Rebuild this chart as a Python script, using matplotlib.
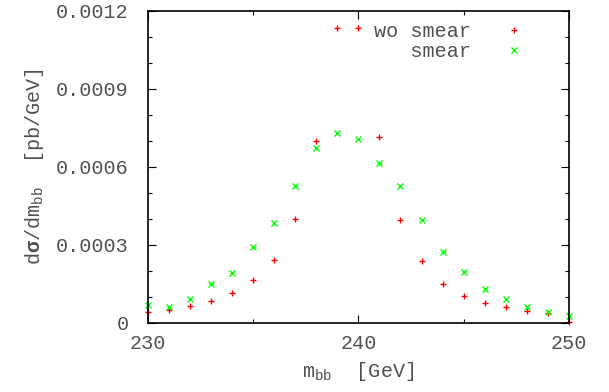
import matplotlib
matplotlib.use("Agg")
import matplotlib.pyplot as plt
from matplotlib.ticker import MultipleLocator

# -------------------------------------------------
# Data: b-bbar invariant mass distribution
# -------------------------------------------------

m_bb = [230, 231, 232, 233, 234, 235, 236, 237, 238, 239, 240,
        241, 242, 243, 244, 245, 246, 247, 248, 249, 250]

wo_smear = [0.0000405, 0.000048, 0.0000636, 0.0000828, 0.0001125,
            0.0001637, 0.000243, 0.000400, 0.000700, 0.001134, 0.001134,
            0.000713, 0.000397, 0.000237, 0.000148, 0.000102, 0.0000763,
            0.0000584, 0.0000443, 0.0000354, 0.000002]

smear = [0.0000686, 0.0000585, 0.0000894, 0.000147, 0.000192,
         0.000292, 0.000382, 0.000526, 0.000673, 0.000730, 0.000707,
         0.000613, 0.000526, 0.000397, 0.000273, 0.000195, 0.000130,
         0.0000905, 0.0000584, 0.0000393, 0.000025]

x_ticks = [230, 240, 250]
y_ticks = [0, 0.0003, 0.0006, 0.0009, 0.0012]
y_tick_labels = ["0", "0.0003", "0.0006", "0.0009", "0.0012"]

# -------------------------------------------------
# Style
# -------------------------------------------------

plt.rcParams["font.family"] = ["Liberation Mono", "DejaVu Sans Mono"]
plt.rcParams["mathtext.fontset"] = "custom"
plt.rcParams["mathtext.rm"] = "Liberation Mono"
plt.rcParams["mathtext.it"] = "Liberation Mono"
plt.rcParams["mathtext.bf"] = "Liberation Mono:bold"

text_color = "#505050"
font_size = 14.5

fig = plt.figure(figsize=(6.09, 3.92), dpi=100)
ax = fig.add_axes([0.243, 0.177, 0.691, 0.795])

ax.plot(m_bb, wo_smear, linestyle="none", marker="+", color="#ff0000",
        markersize=5, markeredgewidth=1.0, label="wo smear", clip_on=False)
ax.plot(m_bb, smear, linestyle="none", marker="x", color="#00ff00",
        markersize=4, markeredgewidth=1.0, label="   smear", clip_on=False)

ax.set_xlim(230, 250)
ax.set_ylim(0, 0.0012)

ax.set_xticks(x_ticks)
ax.xaxis.set_minor_locator(MultipleLocator(5))
ax.set_yticks(y_ticks)
ax.set_yticklabels(y_tick_labels)
ax.yaxis.set_minor_locator(MultipleLocator(0.0001))

ax.tick_params(which="both", direction="in", top=True, right=True,
               colors="black", labelcolor=text_color, labelsize=font_size,
               width=0.8)
ax.tick_params(which="major", length=6)
ax.tick_params(which="minor", length=3)
ax.tick_params(axis="x", pad=8)
ax.tick_params(axis="y", pad=14)

for spine in ax.spines.values():
    spine.set_linewidth(1.2)

ax.set_xlabel(r"m$_{\rm bb}$  [GeV]", fontsize=font_size, color=text_color,
              labelpad=5)
ax.set_ylabel(r"d$\mathbf{\sigma}$/dm$_{\rm bb}$  [pb/GeV]", fontsize=font_size,
              color=text_color, labelpad=7)

# -------------------------------------------------
# Legend (top right, text before marker)
# -------------------------------------------------

leg = ax.legend(loc="upper right", frameon=False, markerfirst=False,
                fontsize=font_size, handlelength=1.0, handletextpad=1.65,
                labelspacing=0.05, borderaxespad=0.15,
                bbox_to_anchor=(0.921, 1.0))
for t in leg.get_texts():
    t.set_color(text_color)

plt.savefig("out.png", dpi=100)
plt.close()
